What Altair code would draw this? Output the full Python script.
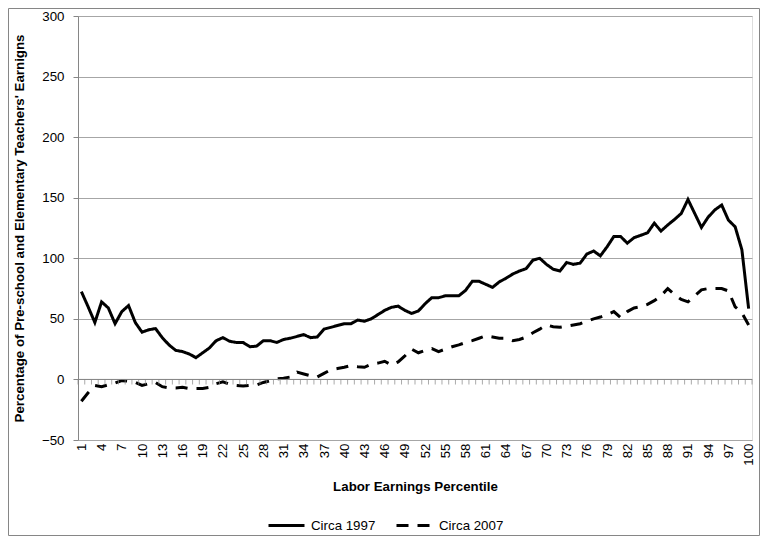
import altair as alt
import pandas as pd

percentile = list(range(1, 101))

circa_1997 = [
    72.5, 60, 47, 64, 59, 46, 56, 61, 47, 39,
    41, 42, 34.5, 28.5, 24, 23, 21, 18, 22, 26,
    32, 34.5, 31.5, 30.5, 30.5, 27, 27.5, 32, 32, 30.5,
    33, 34, 35.5, 37, 34.5, 35, 41.5, 43, 44.5, 46,
    46, 49, 48, 50, 53.5, 57, 59.5, 60.5, 57, 54.5,
    56.5, 62.5, 67.5, 67.5, 69, 69, 69, 73.5, 81, 81,
    78.5, 76, 80.5, 83.5, 87, 89.5, 91.5, 98.5, 100, 95,
    91, 89.5, 96.5, 95, 96, 103.5, 106, 102, 109.5, 118,
    118, 112.5, 117, 119, 121, 129, 122.5, 127.5, 132, 137,
    148.5, 137, 125.5, 134, 140, 144, 131.5, 126, 107, 58.5,
]

circa_2007 = [
    -18, -11, -5, -6, -4.5, -3, -1, -1.5, -2.5, -5,
    -3.5, -2.5, -6, -7, -7, -6.5, -7.5, -7.5, -7.5, -6.5,
    -3.5, -2, -4, -5, -5.5, -5, -4.5, -2.5, -1, 0.5,
    1, 2, 6, 4.5, 3, 2, 5, 8, 9, 10,
    11.5, 10.5, 10, 12.5, 13.5, 15, 12, 14.5, 19.5, 25,
    22, 24, 25.5, 23, 25, 27, 28.5, 30.5, 32, 34,
    36, 35, 34, 34, 32, 33, 35, 38.5, 41.5, 45,
    43.5, 43, 44, 45, 46, 48, 50, 51.5, 53.5, 56,
    51, 56, 59, 60, 62, 65, 69, 75, 70, 66,
    64, 69, 74, 75, 75, 75, 73, 60, 55, 45,
]

series_names = ["Circa 1997", "Circa 2007"]
y_ticks = [-50, 0, 50, 100, 150, 200, 250, 300]
x_labels = list(range(1, 101, 3))
boundaries = [p - 0.5 for p in percentile] + [100.5]

df = pd.DataFrame({
    "percentile": percentile * 2,
    "value": circa_1997 + circa_2007,
    "series": [series_names[0]] * 100 + [series_names[1]] * 100,
})
zero_df = pd.DataFrame({"value": [0]})
tick_df = pd.DataFrame({"percentile": boundaries, "value": [0] * len(boundaries)})

FONT = "Liberation Sans"
AXIS_GRAY = "#868686"
GRID_GRAY = "#a6a6a6"

x_scale = alt.Scale(domain=[0.5, 100.5], nice=False, zero=False)
y_scale = alt.Scale(domain=[-50, 300], nice=False, zero=False)

x_axis = alt.Axis(values=x_labels, labelAngle=270, labelPadding=3,
                  domain=False, ticks=False, tickSize=0, grid=False,
                  labelOverlap=False, labelFlush=False, format="d",
                  labelFont=FONT, labelFontSize=13.3, labelColor="black",
                  title="Labor Earnings Percentile", titleFont=FONT,
                  titleFontSize=13.3, titleFontWeight="bold",
                  titleColor="black", titlePadding=14)
y_axis = alt.Axis(values=y_ticks, grid=True, gridColor=GRID_GRAY,
                  gridWidth=1, domain=True, domainColor=AXIS_GRAY,
                  ticks=True, tickSize=5, tickColor=AXIS_GRAY,
                  labelPadding=9, labelFont=FONT, labelFontSize=13.3,
                  labelColor="black",
                  title="Percentage of Pre-school and Elementary Teachers' Earnigns",
                  titleFont=FONT, titleFontSize=13.3,
                  titleFontWeight="bold", titleColor="black",
                  titlePadding=15)

X = alt.X("percentile:Q", scale=x_scale, axis=x_axis)
Y = alt.Y("value:Q", scale=y_scale, axis=y_axis)

lines = alt.Chart(df).mark_line(strokeWidth=3, color="black").encode(
    x=X,
    y=Y,
    strokeDash=alt.StrokeDash(
        "series:N",
        scale=alt.Scale(domain=series_names, range=[[1, 0], [12, 9]]),
        legend=alt.Legend(orient="none", legendX=189, legendY=490,
                          direction="horizontal", title=None,
                          symbolType="stroke", symbolSize=1296,
                          symbolStrokeWidth=3, symbolStrokeColor="black",
                          labelFont=FONT, labelFontSize=13.3,
                          labelColor="black", labelOffset=5,
                          columnPadding=14, padding=0),
    ),
)

zero_rule = alt.Chart(zero_df).mark_rule(color=AXIS_GRAY, strokeWidth=1).encode(
    y=Y,
    x=alt.value(0),
    x2=alt.value(674),
)

ticks = alt.Chart(tick_df).mark_tick(
    orient="vertical", size=5, thickness=1, color=AXIS_GRAY, yOffset=2.5
).encode(x=X, y=Y)

border = alt.Chart(pd.DataFrame({"a": [0]})).mark_rect(
    fill=None, stroke=AXIS_GRAY, strokeWidth=1
).encode(
    x=alt.value(-69.5),
    x2=alt.value(681.5),
    y=alt.value(-7.5),
    y2=alt.value(519.5),
)

chart = alt.layer(lines, zero_rule, ticks, border).properties(
    width=674,
    height=424,
    autosize=alt.AutoSizeParams(type="none"),
    padding={"left": 70, "top": 8, "right": 8, "bottom": 96},
).configure_view(strokeWidth=0).configure(background="white")

chart.save("out.html", embed_options={"renderer": "svg", "actions": False})
